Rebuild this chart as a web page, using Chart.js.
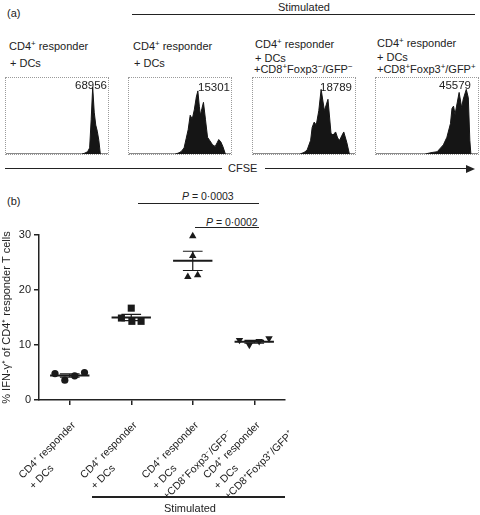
<!DOCTYPE html>
<html>
<head>
<meta charset="utf-8">
<script src="https://cdn.jsdelivr.net/npm/chart.js@4.4.1/dist/chart.umd.min.js"></script>
<style>
    body { margin: 0; background: #fff; }
    #figura { position: relative; width: 480px; height: 515px; overflow: hidden; font-family: "Liberation Sans", Arial, sans-serif; color: #222; }
    .t { position: absolute; font-size: 11px; line-height: 14px; white-space: nowrap; }
    .t sup { font-size: 0.72em; line-height: 0; vertical-align: 0.45em; }
    .num { position: absolute; font-size: 11.5px; line-height: 14px; text-align: right; }
    .linea { position: absolute; height: 1.5px; background: #222; }
    .caja { position: absolute; top: 77px; width: 104px; height: 78px; box-sizing: border-box; border: 1px dotted #9a9a9a; }
    .caja canvas { display: block; }
    .flecha { position: absolute; left: 466px; top: 164.5px; width: 0; height: 0; border-left: 9px solid #222; border-top: 4px solid transparent; border-bottom: 4px solid transparent; }
</style>
</head>
<body>
<div id="figura">
    <!-- Panel (a) -->
    <div class="t" style="left:7px; top:6px;">(a)</div>
    <div class="t" style="left:278px; top:0px;">Stimulated</div>
    <div class="linea" style="left:132px; width:343px; top:13.5px;"></div>

    <div class="t" style="left:9px; top:39px;">CD4<sup>+</sup> responder</div>
    <div class="t" style="left:10px; top:56px;">+ DCs</div>
    <div class="t" style="left:133px; top:39px;">CD4<sup>+</sup> responder</div>
    <div class="t" style="left:134px; top:56px;">+ DCs</div>
    <div class="t" style="left:255px; top:37px;">CD4<sup>+</sup> responder</div>
    <div class="t" style="left:255px; top:51px;">+ DCs</div>
    <div class="t" style="left:254px; top:62px;">+CD8<sup>+</sup>Foxp3<sup>−</sup>/GFP<sup>−</sup></div>
    <div class="t" style="left:377px; top:36px;">CD4<sup>+</sup> responder</div>
    <div class="t" style="left:377px; top:50px;">+ DCs</div>
    <div class="t" style="left:377px; top:62px;">+CD8<sup>+</sup>Foxp3<sup>+</sup>/GFP<sup>+</sup></div>

    <div class="caja" style="left:5px;"><canvas id="hist1" width="102" height="76"></canvas></div>
    <div class="caja" style="left:128px;"><canvas id="hist2" width="102" height="76"></canvas></div>
    <div class="caja" style="left:252px;"><canvas id="hist3" width="102" height="76"></canvas></div>
    <div class="caja" style="left:375px;"><canvas id="hist4" width="102" height="76"></canvas></div>

    <div class="num" style="right:373px; top:78px;">68956</div>
    <div class="num" style="right:250px; top:80px;">15301</div>
    <div class="num" style="right:128px; top:80px;">18789</div>
    <div class="num" style="right:9px; top:78px;">45579</div>

    <div class="linea" style="left:5px; width:217px; top:167.5px;"></div>
    <div class="t" style="left:228px; top:161px;">CFSE</div>
    <div class="linea" style="left:265px; width:203px; top:167.5px;"></div>
    <div class="flecha"></div>

    <!-- Panel (b) -->
    <div class="t" style="left:7px; top:194px;">(b)</div>
    <div class="t" style="left:182px; top:189px; font-size:10.5px;"><i>P</i> = 0·0003</div>
    <div class="linea" style="left:138px; width:121px; top:202.5px; height:1.3px;"></div>
    <div class="t" style="left:206px; top:215px; font-size:10.5px;"><i>P</i> = 0·0002</div>
    <div class="linea" style="left:195px; width:64px; top:227px; height:1.3px;"></div>

    <canvas id="graficoIFN" width="300" height="325" style="position:absolute; left:0; top:190px;"></canvas>

    <div class="linea" style="left:92px; width:193px; top:496px;"></div>
    <div class="t" style="left:164px; top:501px;">Stimulated</div>
</div>

<script>
// Histogramas CFSE (x: canal en % del ancho de la caja, y: altura en % de la caja)
const hist1X = [0, 74, 77, 80, 82, 83.5, 85, 86.5, 88, 89.5, 91, 92.5, 100];
const hist1Y = [0, 0, 1, 3, 8, 45, 88, 55, 38, 30, 18, 0, 0];
const hist2X = [0, 45, 48, 51, 54, 56, 58, 60, 62, 64, 66, 67.5, 69, 70, 71.5, 73, 75, 77, 79, 82, 84.5, 86.5, 88, 90, 92, 94.5, 100];
const hist2Y = [0, 0, 1, 3, 8, 20, 32, 51, 46, 58, 75, 83, 62, 51, 60, 68, 45, 22, 18, 12, 10, 15, 19, 16, 10, 0, 0];
const hist3X = [0, 46, 50, 53, 56.5, 58, 60, 62, 64.5, 66.8, 70, 73.5, 76.5, 78.5, 81, 83, 85, 87, 89, 92, 94.5, 100];
const hist3Y = [0, 0, 2, 5, 18, 35, 42, 38, 57, 85, 57, 72, 27, 25, 29, 21, 18, 24, 29, 15, 0, 0];
const hist4X = [0, 48, 55, 60, 66, 69.5, 73, 74.5, 76, 77.5, 79, 81.5, 84, 85.5, 88.5, 90.5, 92, 93, 100];
const hist4Y = [0, 0, 2, 3, 12, 22, 40, 60, 63, 52, 63, 81, 61, 72, 85, 74, 18, 0, 0];

// % IFN-γ+ de células T CD4+ respondedoras
const grupoPos = [1, 2, 3, 4];
const grupoEtiquetas = [
    ['CD4⁺ responder', '+ DCs'],
    ['CD4⁺ responder', '+ DCs'],
    ['CD4⁺ responder', '+ DCs', '+CD8⁺Foxp3⁻/GFP⁻'],
    ['CD4⁺ responder', '+ DCs', '+CD8⁺Foxp3⁺/GFP⁺']
];
const ifnGrupo1 = [4.8, 3.6, 4.4, 5.0];
const ifnGrupo2 = [14.9, 16.7, 14.3, 14.3];
const ifnGrupo3 = [22.4, 29.8, 26.2, 22.7];
const ifnGrupo4 = [10.9, 10.0, 10.7, 11.2];
const jitter1 = [-0.24, -0.08, 0.08, 0.24];
const jitter2 = [-0.16, 0, 0.01, 0.16];
const jitter3 = [-0.08, 0, 0, 0.08];
const jitter4 = [-0.24, -0.08, 0.08, 0.24];
const medias = [4.45, 15.0, 25.3, 10.6];
const errores = [0.3, 0.57, 1.75, 0.25];
const yTicks = [0, 10, 20, 30];

Chart.defaults.font.family = '"Liberation Sans", Arial, sans-serif';
Chart.defaults.color = '#222';

function crearHistograma(canvasId, xs, ys) {
    new Chart(document.getElementById(canvasId), {
        type: 'line',
        data: {
            datasets: [{
                data: xs.map((x, i) => ({ x: x, y: ys[i] })),
                fill: 'origin',
                backgroundColor: '#151515',
                borderColor: '#151515',
                borderWidth: 1,
                pointRadius: 0,
                tension: 0
            }]
        },
        options: {
            responsive: false,
            animation: false,
            layout: { padding: 0 },
            plugins: { legend: { display: false }, tooltip: { enabled: false } },
            scales: {
                x: { type: 'linear', min: 0, max: 100, display: false },
                y: { min: 0, max: 100, display: false }
            }
        }
    });
}

crearHistograma('hist1', hist1X, hist1Y);
crearHistograma('hist2', hist2X, hist2Y);
crearHistograma('hist3', hist3X, hist3Y);
crearHistograma('hist4', hist4X, hist4Y);

function puntos(valores, jitter, pos) {
    return valores.map((v, i) => ({ x: pos + jitter[i], y: v }));
}

// Líneas de media y barras de error (segmentos separados por nulos)
let lineasMedia = [];
let barrasError = [];
grupoPos.forEach((p, i) => {
    const m = medias[i], s = errores[i];
    lineasMedia.push({ x: p - 0.32, y: m }, { x: p + 0.32, y: m }, { x: p, y: null });
    barrasError.push(
        { x: p - 0.16, y: m + s }, { x: p + 0.16, y: m + s }, { x: p, y: null },
        { x: p, y: m + s }, { x: p, y: m - s }, { x: p, y: null },
        { x: p - 0.16, y: m - s }, { x: p + 0.16, y: m - s }, { x: p, y: null }
    );
});

const etiquetasX = {
    id: 'etiquetasX',
    afterDraw(chart) {
        const sc = chart.scales.x;
        const ctx = chart.ctx;
        ctx.save();
        ctx.font = '10.5px "Liberation Sans", Arial, sans-serif';
        ctx.fillStyle = '#222';
        ctx.textAlign = 'left';
        ctx.textBaseline = 'middle';
        grupoEtiquetas.forEach((lineas, i) => {
            const px = sc.getPixelForValue(grupoPos[i]);
            ctx.save();
            ctx.translate(px - 49, sc.top + 77);
            ctx.rotate(-Math.PI / 4);
            lineas.forEach((l, j) => ctx.fillText(l, 0, j * 15));
            ctx.restore();
        });
        ctx.restore();
    }
};

const estiloPunto = { backgroundColor: '#1a1a1a', borderColor: '#1a1a1a', borderWidth: 0, showLine: false };

new Chart(document.getElementById('graficoIFN'), {
    type: 'scatter',
    data: {
        datasets: [
            Object.assign({ data: puntos(ifnGrupo1, jitter1, 1), pointStyle: 'circle', pointRadius: 3.6 }, estiloPunto),
            Object.assign({ data: puntos(ifnGrupo2, jitter2, 2), pointStyle: 'rect', pointRadius: 5 }, estiloPunto),
            Object.assign({ data: puntos(ifnGrupo3, jitter3, 3), pointStyle: 'triangle', pointRadius: 4.3 }, estiloPunto),
            Object.assign({ data: puntos(ifnGrupo4, jitter4, 4), pointStyle: 'triangle', pointRotation: 180, pointRadius: 4.3 }, estiloPunto),
            { data: lineasMedia, showLine: true, spanGaps: false, borderColor: '#1a1a1a', borderWidth: 2, pointRadius: 0 },
            { data: barrasError, showLine: true, spanGaps: false, borderColor: '#1a1a1a', borderWidth: 1.2, pointRadius: 0 }
        ]
    },
    options: {
        responsive: false,
        animation: false,
        clip: false,
        layout: { padding: { top: 45, right: 15, left: 0, bottom: 0 } },
        plugins: { legend: { display: false }, tooltip: { enabled: false } },
        scales: {
            x: {
                type: 'linear',
                min: 0.5,
                max: 4.5,
                afterBuildTicks: scale => { scale.ticks = grupoPos.map(v => ({ value: v })); },
                afterFit: scale => { scale.height = 115; },
                ticks: { display: false },
                grid: { drawOnChartArea: false, tickLength: 5, color: '#222', lineWidth: 1.5 },
                border: { color: '#222', width: 1.5 }
            },
            y: {
                min: 0,
                max: 30,
                afterBuildTicks: scale => { scale.ticks = yTicks.map(v => ({ value: v })); },
                afterFit: scale => { scale.width = 39; },
                ticks: { font: { size: 11 }, padding: 3, color: '#222' },
                grid: { drawOnChartArea: false, tickLength: 5, color: '#222', lineWidth: 1.5 },
                border: { color: '#222', width: 1.5 },
                title: {
                    display: true,
                    text: '% IFN-γ⁺ of CD4⁺ responder T cells',
                    font: { size: 11 },
                    color: '#222',
                    padding: { top: 0, bottom: 0 }
                }
            }
        }
    },
    plugins: [etiquetasX]
});
</script>
</body>
</html>
